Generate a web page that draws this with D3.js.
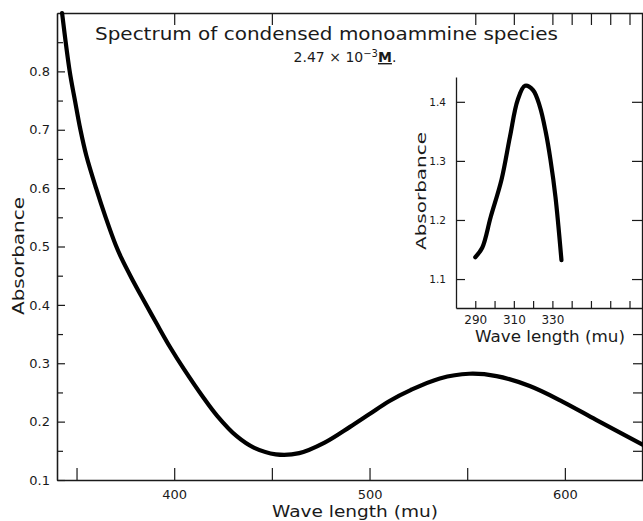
<!DOCTYPE html>
<html>
<head>
<meta charset="utf-8">
<script src="https://cdn.jsdelivr.net/npm/d3@7"></script>
<style>
  body { margin: 0; background: #fff; }
  svg { display: block; }
  text { font-family: "DejaVu Sans", sans-serif; fill: #1a1a1a; }
</style>
</head>
<body>
<div id="chart"></div>
<script>
// main spectrum: wavelength (mu) and absorbance
const mainWave = [342.6, 346.5, 349.2, 352, 355, 360, 365, 370, 373, 378, 384, 391, 398, 405,
  415, 422, 432, 441, 452, 464, 477, 490, 500, 510, 521, 536, 551, 565, 582, 599, 616, 640];
const mainAbs = [0.90, 0.80, 0.750, 0.700, 0.656, 0.600, 0.549, 0.503, 0.480, 0.447, 0.410, 0.368,
  0.327, 0.290, 0.241, 0.210, 0.175, 0.155, 0.144, 0.146, 0.164, 0.191, 0.213, 0.235, 0.254, 0.274,
  0.282, 0.278, 0.261, 0.234, 0.203, 0.160];

// inset: the 315 mu band
const insetWave = [290, 293.6, 298, 303.6, 308, 312, 315.8, 319.9, 323.5, 326.6, 329, 331.6, 334.7];
const insetAbs = [1.137, 1.153, 1.205, 1.268, 1.341, 1.403, 1.427, 1.42, 1.392, 1.348, 1.302, 1.239, 1.132];

const mainYTicks = [0.1, 0.2, 0.3, 0.4, 0.5, 0.6, 0.7, 0.8];
const mainYMinor = [0.15, 0.25, 0.35, 0.45, 0.55, 0.65, 0.75, 0.85];
const mainRightTicks = [0.15, 0.2, 0.25, 0.3, 0.35];
const mainXTicks = [350, 400, 450, 500, 550, 600];
const mainXLabels = [400, 500, 600];
const mainTopTicks = [400, 450];
const insetYTicks = [1.1, 1.2, 1.3, 1.4];
const insetXTicks = [290, 300, 310, 320, 330, 340, 350, 360, 370];
const insetXLabels = [290, 310, 330];
const insetTopTicks = [290, 310, 330, 340, 350, 360, 370];

const width = 643, height = 521;
const ink = '#1a1a1a';

const svg = d3.select('#chart').append('svg')
  .attr('width', width)
  .attr('height', height);

const x = d3.scaleLinear().domain([340, 640]).range([57, 643]);
const y = d3.scaleLinear().domain([0.1, 0.9]).range([480, 13]);

const ix = d3.scaleLinear().domain([280, 377]).range([456, 643]);
const iy = d3.scaleLinear().domain([1.051, 1.442]).range([308, 77]);

function styleAxis(g, fontSize) {
  g.selectAll('.domain').attr('stroke', ink).attr('stroke-width', 1.3);
  g.selectAll('.tick line').attr('stroke', ink).attr('stroke-width', 1.2);
  g.selectAll('.tick text')
    .attr('fill', '#222')
    .style('font-family', '"DejaVu Sans", sans-serif')
    .style('font-size', fontSize + 'px');
  g.attr('font-family', null).attr('font-size', null);
}

// main frame
svg.append('g')
  .attr('transform', `translate(${x.range()[0]},0)`)
  .call(d3.axisLeft(y).tickValues(mainYTicks).tickSize(-8).tickSizeOuter(0).tickPadding(7)
    .tickFormat(d3.format('.1f')))
  .call(g => styleAxis(g, 13));

svg.append('g')
  .attr('transform', `translate(${x.range()[0]},0)`)
  .call(d3.axisLeft(y).tickValues(mainYMinor).tickSize(-6).tickSizeOuter(0).tickFormat(''))
  .call(g => styleAxis(g, 13));

svg.append('g')
  .attr('transform', `translate(0,${y.range()[0]})`)
  .call(d3.axisBottom(x).tickValues(mainXTicks).tickSize(-12).tickSizeOuter(0).tickPadding(10)
    .tickFormat(d => mainXLabels.includes(d) ? d : ''))
  .call(g => styleAxis(g, 13));

svg.append('g')
  .attr('transform', `translate(0,${y.range()[1]})`)
  .call(d3.axisBottom(x).tickValues(mainTopTicks).tickSize(12).tickSizeOuter(0).tickFormat(''))
  .call(g => styleAxis(g, 13));

svg.append('g')
  .attr('transform', `translate(0,${y.range()[1]})`)
  .call(d3.axisBottom(ix).tickValues(insetTopTicks).tickSize(12).tickSizeOuter(0).tickFormat(''))
  .call(g => g.select('.domain').remove())
  .call(g => styleAxis(g, 13));

svg.append('g')
  .attr('transform', `translate(${x.range()[1] - 1},0)`)
  .call(d3.axisRight(y).tickValues(mainRightTicks).tickSize(-9).tickSizeOuter(0).tickFormat(''))
  .call(g => styleAxis(g, 13));

// inset frame
svg.append('g')
  .attr('transform', `translate(${ix.range()[0]},0)`)
  .call(d3.axisLeft(iy).tickValues(insetYTicks).tickSize(-9).tickSizeOuter(0).tickPadding(10)
    .tickFormat(d3.format('.1f')))
  .call(g => styleAxis(g, 10.5));

svg.append('g')
  .attr('transform', `translate(${ix.range()[1] - 1},0)`)
  .call(d3.axisRight(iy).tickValues(insetYTicks).tickSize(-10).tickFormat(''))
  .call(g => g.select('.domain').remove())
  .call(g => styleAxis(g, 12));

svg.append('g')
  .attr('transform', `translate(0,${iy.range()[0]})`)
  .call(d3.axisBottom(ix).tickValues(insetXTicks).tickSize(-7).tickSizeOuter(0).tickPadding(7)
    .tickFormat(d => insetXLabels.includes(d) ? d : ''))
  .call(g => styleAxis(g, 12));

// curves
const mainLine = d3.line()
  .x((d, i) => x(mainWave[i]))
  .y(d => y(d))
  .curve(d3.curveCatmullRom.alpha(0.5));

svg.append('path')
  .datum(mainAbs)
  .attr('fill', 'none')
  .attr('stroke', '#000')
  .attr('stroke-width', 4.2)
  .attr('stroke-linecap', 'round')
  .attr('d', mainLine);

const insetLine = d3.line()
  .x((d, i) => ix(insetWave[i]))
  .y(d => iy(d))
  .curve(d3.curveCatmullRom.alpha(0.5));

svg.append('path')
  .datum(insetAbs)
  .attr('fill', 'none')
  .attr('stroke', '#000')
  .attr('stroke-width', 4.2)
  .attr('stroke-linecap', 'round')
  .attr('stroke-linejoin', 'round')
  .attr('d', insetLine);

// titles and axis names
svg.append('text')
  .attr('x', 95).attr('y', 40)
  .attr('textLength', 463).attr('lengthAdjust', 'spacingAndGlyphs')
  .style('font-size', '17px')
  .text('Spectrum of condensed monoammine species');

const sub = svg.append('text')
  .attr('x', 345).attr('y', 62)
  .attr('text-anchor', 'middle')
  .style('font-size', '14px');
sub.append('tspan').text('2.47 × 10');
sub.append('tspan').attr('dy', -5).style('font-size', '10px').text('−3');
sub.append('tspan').attr('dy', 5).style('font-weight', 'bold').style('text-decoration', 'underline').text('M');
sub.append('tspan').text('.');

svg.append('text')
  .attr('transform', 'translate(24,256) rotate(-90)')
  .attr('text-anchor', 'middle')
  .attr('textLength', 118).attr('lengthAdjust', 'spacingAndGlyphs')
  .style('font-size', '15px')
  .text('Absorbance');

svg.append('text')
  .attr('x', 355).attr('y', 517)
  .attr('text-anchor', 'middle')
  .attr('textLength', 166).attr('lengthAdjust', 'spacingAndGlyphs')
  .style('font-size', '15px')
  .text('Wave length (mu)');

svg.append('text')
  .attr('transform', 'translate(426,191) rotate(-90)')
  .attr('text-anchor', 'middle')
  .attr('textLength', 118).attr('lengthAdjust', 'spacingAndGlyphs')
  .style('font-size', '14px')
  .text('Absorbance');

svg.append('text')
  .attr('x', 550).attr('y', 342)
  .attr('text-anchor', 'middle')
  .attr('textLength', 150).attr('lengthAdjust', 'spacingAndGlyphs')
  .style('font-size', '15px')
  .text('Wave length (mu)');
</script>
</body>
</html>
